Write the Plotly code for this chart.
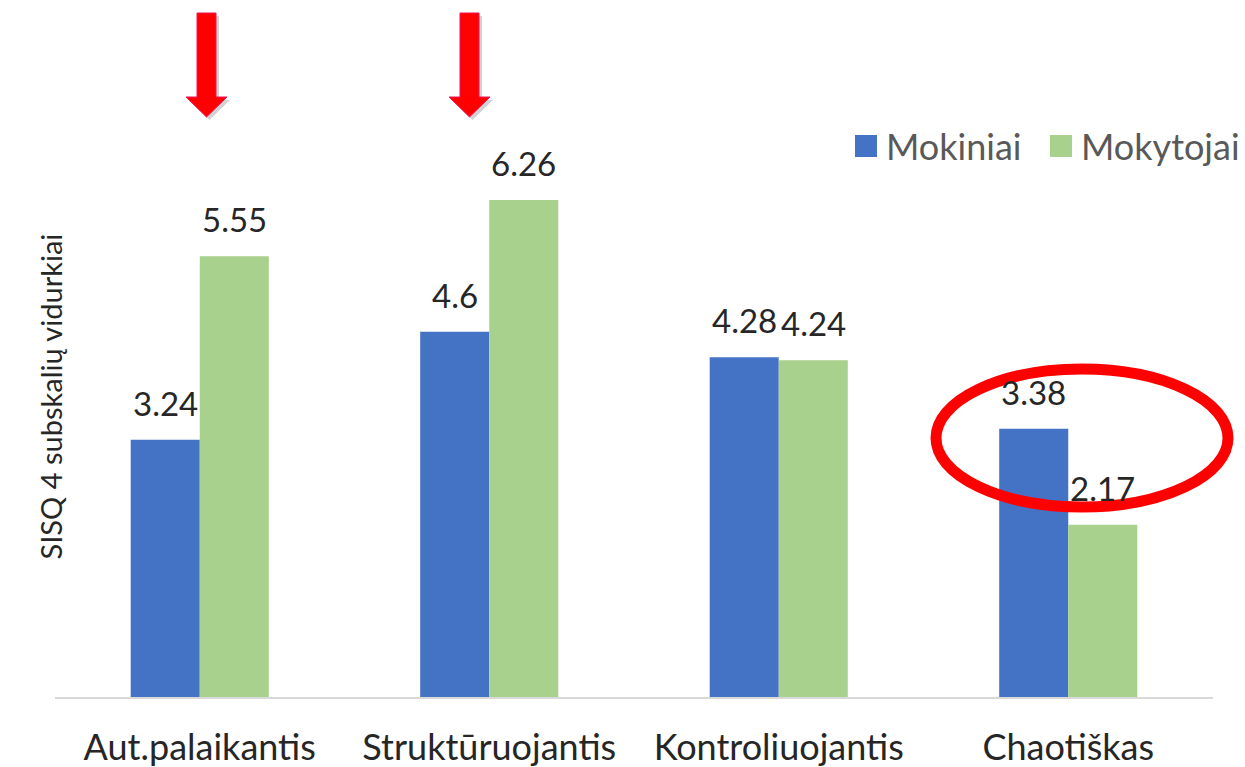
import plotly.graph_objects as go

# Data
categories = ["Aut.palaikantis", "Struktūruojantis", "Kontroliuojantis", "Chaotiškas"]
mokiniai = [3.24, 4.6, 4.28, 3.38]
mokytojai = [5.55, 6.26, 4.24, 2.17]
series_names = ["Mokiniai", "Mokytojai"]
series_colors = ["#4472C4", "#A9D18E"]

W, H = 1245, 767
ML, MR, MT, MB = 55, 32, 0, 70
PW = W - ML - MR
PH = H - MT - MB
FONT = "Lato"


# pixel -> paper helpers for the decorations
def px(x):
    return (x - ML) / PW


def py(y):
    return (H - MB - y) / PH


fig = go.Figure()
for name, vals, col in zip(series_names, [mokiniai, mokytojai], series_colors):
    fig.add_trace(go.Bar(x=categories, y=vals, name=name, marker_color=col,
                         marker_line_width=0, showlegend=False))

# value labels above the bars
bar_w = PW / len(categories) * (1 - 0.523) / 2
for i, vals in enumerate([mokiniai, mokytojai]):
    shift = -bar_w / 2 if i == 0 else bar_w / 2
    for c, v in zip(categories, vals):
        fig.add_annotation(x=c, y=v, text=str(v), showarrow=False, xshift=shift,
                           yanchor="bottom", yshift=15,
                           font=dict(family=FONT, size=33, color="#262626"))

# custom legend
leg = [(855, "Mokiniai"), (1050, "Mokytojai")]
for (x0, name), col in zip(leg, series_colors):
    fig.add_shape(type="rect", xref="paper", yref="paper", x0=px(x0), x1=px(x0 + 22),
                  y0=py(157), y1=py(135), fillcolor=col, line_width=0)
    fig.add_annotation(xref="paper", yref="paper", x=px(x0 + 29), y=py(146), text=name,
                       showarrow=False, xanchor="left", yanchor="middle",
                       font=dict(family=FONT, size=36, color="#595959"))

# y axis title
fig.add_annotation(xref="paper", yref="paper", x=px(30), y=py(397),
                   text="SISQ 4 subskalių vidurkiai", textangle=-90, showarrow=False,
                   font=dict(family=FONT, size=29, color="#262626"))

# red arrows
for cx in [206.5, 469.5]:
    pts = [(cx - 9.5, 13), (cx + 9.5, 13), (cx + 9.5, 97), (cx + 20.5, 97), (cx, 117),
           (cx - 20.5, 97), (cx - 9.5, 97)]
    for dx, fill, line, op in [(3, "#808080", "rgba(0,0,0,0)", 0.35), (0, "#FF0000", "#F0145A", 1)]:
        path = "M " + " L ".join(f"{px(x + dx):.5f},{py(y + dx):.5f}" for x, y in pts) + " Z"
        fig.add_shape(type="path", xref="paper", yref="paper", path=path,
                      fillcolor=fill, line=dict(color=line, width=1), opacity=op)

# red ellipse
fig.add_shape(type="circle", xref="paper", yref="paper", x0=px(936), x1=px(1228),
              y0=py(507), y1=py(369), line=dict(color="#FF0000", width=11))

fig.update_layout(
    width=W, height=H,
    margin=dict(l=ML, r=MR, t=MT, b=MB),
    barmode="group", bargap=0.523, bargroupgap=0,
    plot_bgcolor="white", paper_bgcolor="white",
    xaxis=dict(showline=True, linecolor="#D9D9D9", linewidth=2, ticks="outside",
               ticklen=18, tickcolor="rgba(0,0,0,0)",
               tickfont=dict(family=FONT, size=36, color="#262626")),
    yaxis=dict(range=[0, PH / 79.4], showticklabels=False, showgrid=False,
               zeroline=False, showline=False),
)

fig.write_html("out.html", config={"displayModeBar": False},
               post_script="document.body.style.margin='0';")
